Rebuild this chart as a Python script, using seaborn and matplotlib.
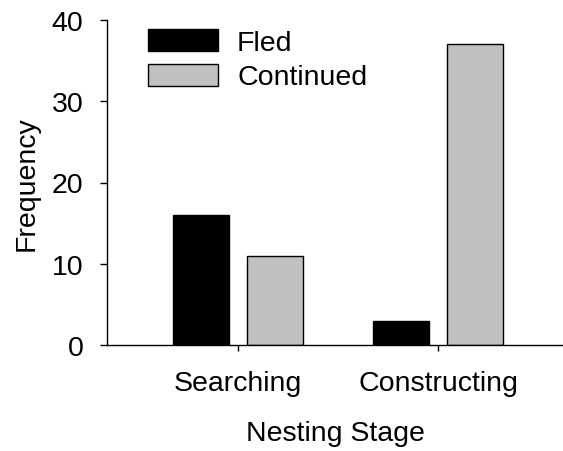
import matplotlib
matplotlib.use("Agg")
import matplotlib.pyplot as plt
import seaborn as sns
import pandas as pd

stages = ["Searching", "Constructing"]
fled = [16, 3]
continued = [11, 37]
y_ticks = [0, 10, 20, 30, 40]

df = pd.DataFrame({
    "Stage": stages * 2,
    "Outcome": ["Fled"] * len(stages) + ["Continued"] * len(stages),
    "Frequency": fled + continued,
})

sns.set_style("ticks")
plt.rcParams["font.family"] = ["Liberation Sans", "DejaVu Sans"]
for k in ["text.color", "axes.labelcolor", "xtick.color", "ytick.color",
          "xtick.labelcolor", "ytick.labelcolor"]:
    plt.rcParams[k] = "black"

FS = 20.5

fig = plt.figure(figsize=(5.63, 4.52), dpi=100)
ax = fig.add_axes([107 / 563, 1 - 346 / 452, 1 - 107 / 563, (346 - 21) / 452])

sns.barplot(data=df, x="Stage", y="Frequency", hue="Outcome",
            palette={"Fled": "#000000", "Continued": "#c0c0c0"},
            width=0.74, gap=0.23, edgecolor="black", linewidth=1,
            ax=ax, legend=True)

ax.set_xlim(-0.655, 1.625)
ax.set_ylim(0, 40)
ax.set_yticks(y_ticks)
ax.tick_params(axis="both", labelsize=FS, direction="out", color="black")
ax.tick_params(axis="y", length=5, width=1, pad=12)
ax.tick_params(axis="x", length=4, width=1, pad=14)
ax.set_xlabel("Nesting Stage", fontsize=FS, labelpad=17)
ax.set_ylabel("Frequency", fontsize=FS, labelpad=9)
for s in ["top", "right"]:
    ax.spines[s].set_visible(False)
for s in ["left", "bottom"]:
    ax.spines[s].set_color("black")
    ax.spines[s].set_linewidth(1)

handles, labels = ax.get_legend_handles_labels()
ax.legend(handles, labels, loc="upper left",
          bbox_to_anchor=(148 / 563, 1 - 30 / 452), bbox_transform=fig.transFigure,
          frameon=False, fontsize=FS, borderpad=0, borderaxespad=0,
          handlelength=2.46, handleheight=0.81, labelspacing=0.27,
          handletextpad=0.67)

fig.savefig("out.png", dpi=100)
